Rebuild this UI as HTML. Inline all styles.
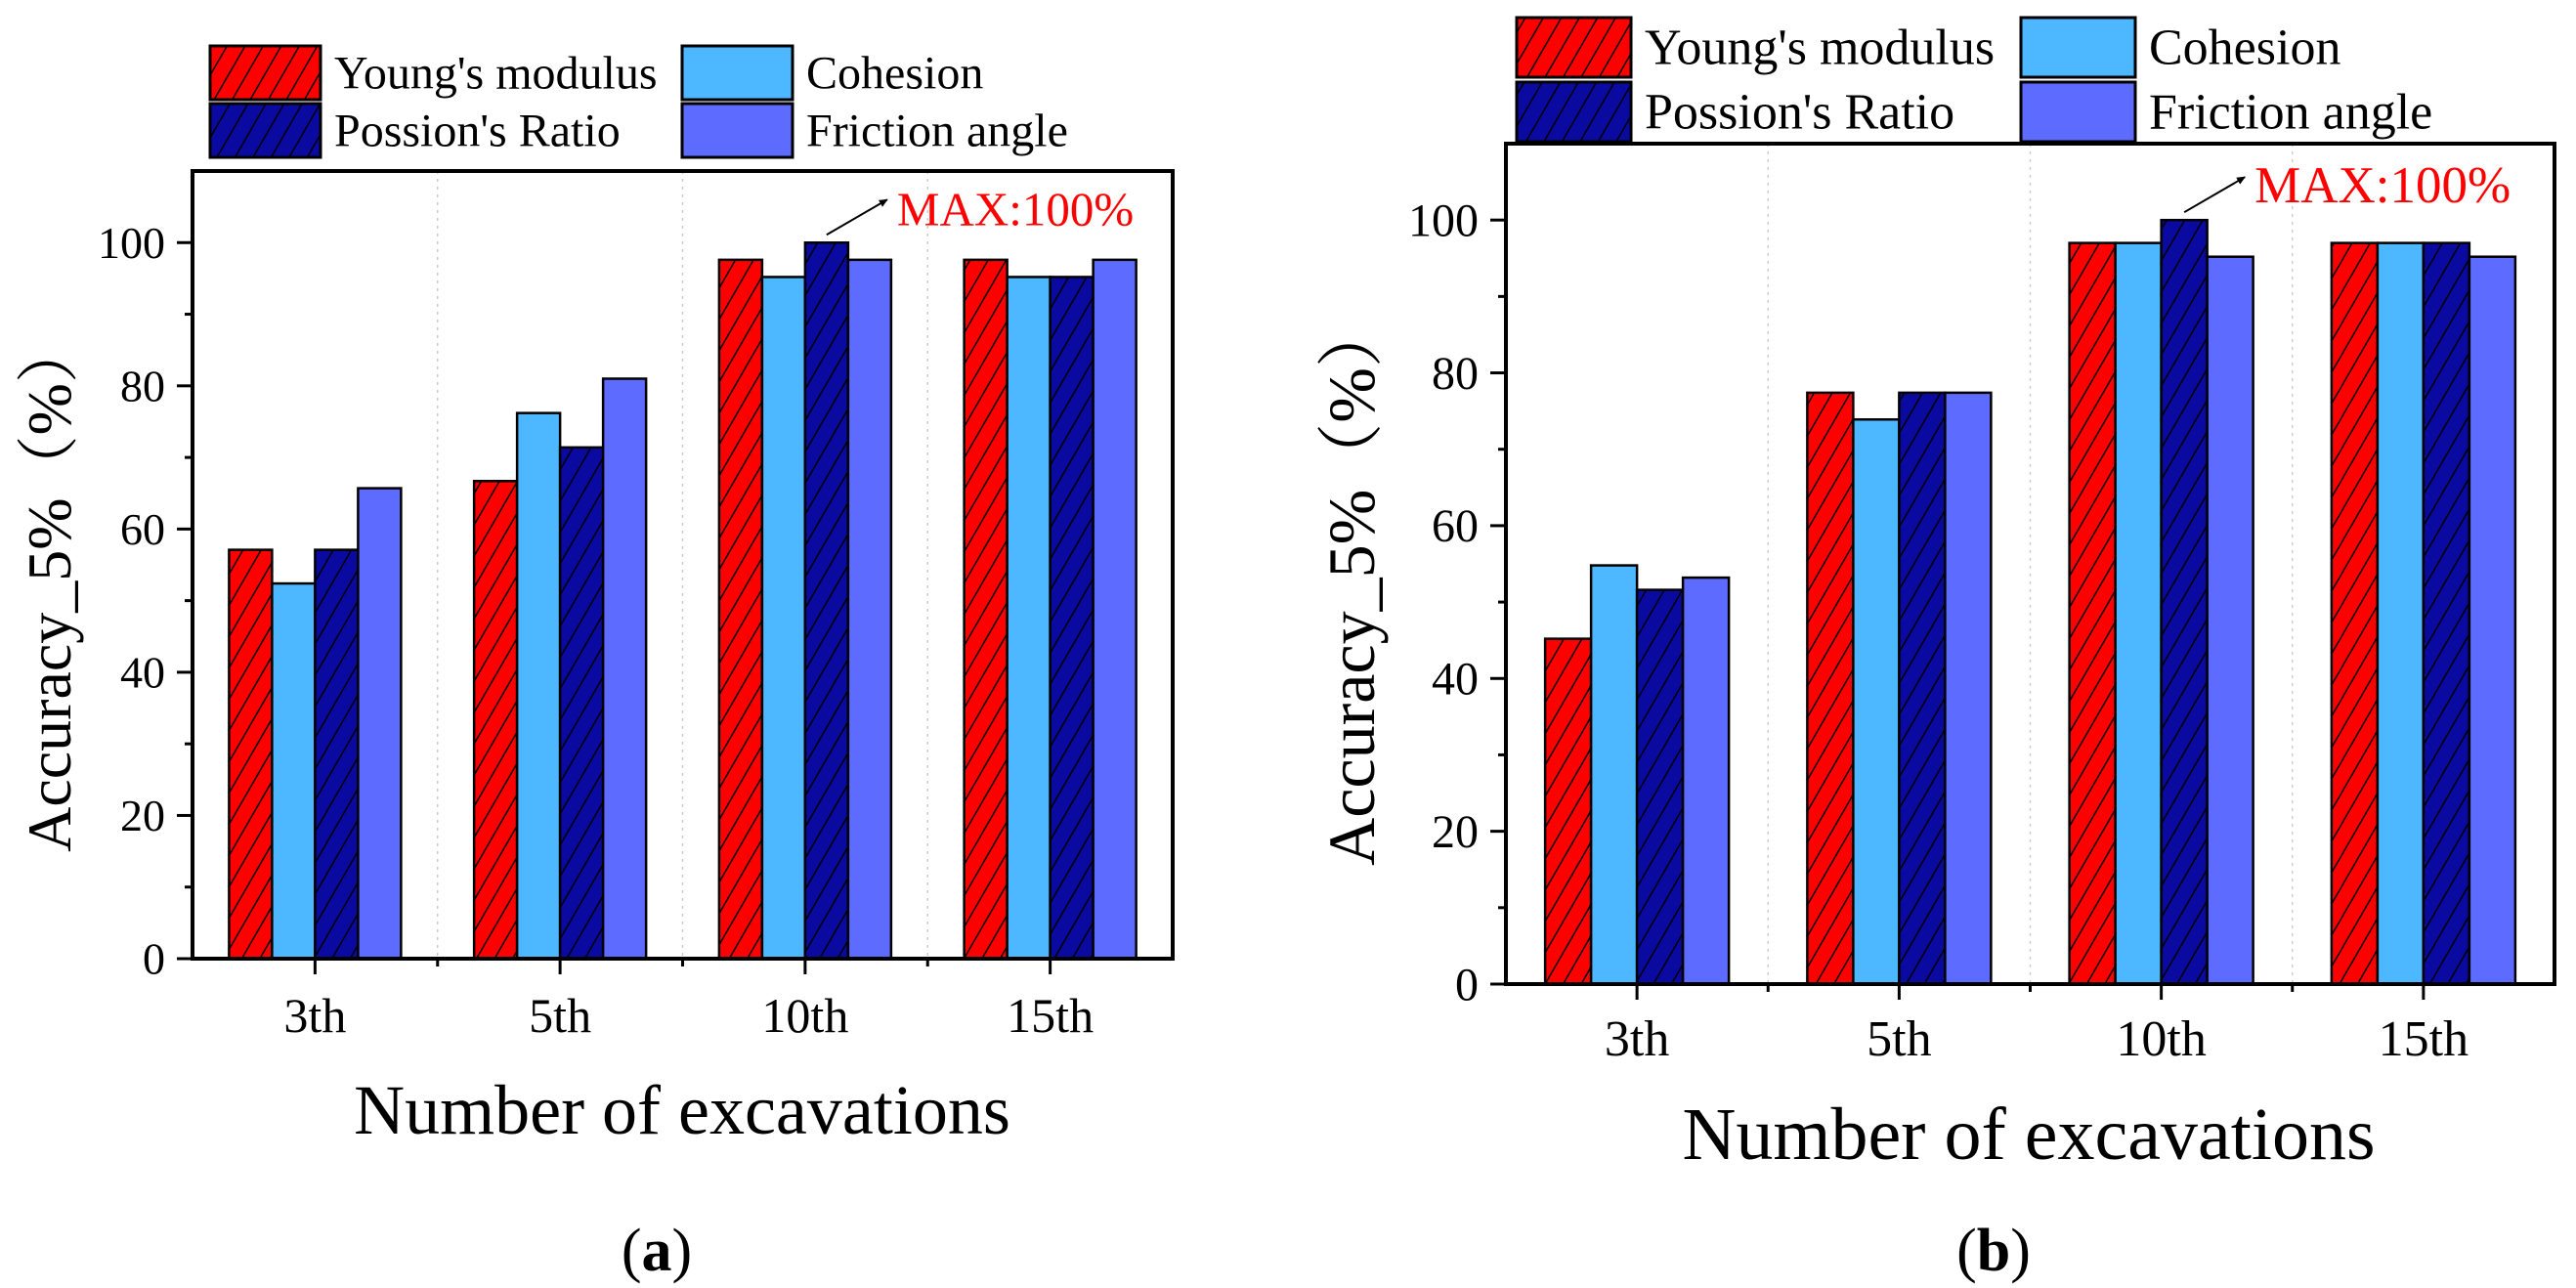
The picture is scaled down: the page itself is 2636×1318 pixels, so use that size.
<!DOCTYPE html>
<html><head><meta charset="utf-8">
<style>
html,body{margin:0;padding:0;background:#fff;}
svg{display:block;}
svg text{font-family:"Liberation Serif","DejaVu Serif","Noto Serif CJK SC",serif !important;fill:#000;}
</style></head>
<body>
<svg id="fig" width="2636" height="1318" viewBox="0 0 2636 1318" xmlns="http://www.w3.org/2000/svg" font-family="Liberation Serif, DejaVu Serif, serif">
<defs>
<pattern id="hatchRed" patternUnits="userSpaceOnUse" width="16" height="16" patternTransform="rotate(30)">
<rect width="16" height="16" fill="#ff0000"/><line x1="0" y1="0" x2="0" y2="16" stroke="#000" stroke-width="3"/></pattern>
<pattern id="hatchNavy" patternUnits="userSpaceOnUse" width="16" height="16" patternTransform="rotate(30)">
<rect width="16" height="16" fill="#0a0aa0"/><line x1="0" y1="0" x2="0" y2="16" stroke="#000" stroke-width="3"/></pattern>
<marker id="arrowHead" markerWidth="10" markerHeight="10" refX="8" refY="5" orient="auto" markerUnits="userSpaceOnUse">
<path d="M0,1 L9,5 L0,9 z" fill="#000"/></marker>
</defs>
<g id="root"></g>
</svg>
<script>
const categories = ["3th", "5th", "10th", "15th"];
const seriesNames = ["Young's modulus", "Cohesion", "Possion's Ratio", "Friction angle"];
const youngA = [57.1, 66.7, 97.6, 97.6];
const cohesionA = [52.4, 76.2, 95.2, 95.2];
const poissonA = [57.1, 71.4, 100, 95.2];
const frictionA = [65.7, 81.0, 97.6, 97.6];
const youngB = [45.2, 77.4, 97.0, 97.0];
const cohesionB = [54.8, 73.9, 97.0, 97.0];
const poissonB = [51.6, 77.4, 100, 97.0];
const frictionB = [53.2, 77.4, 95.2, 95.2];
const yTicks = [0, 20, 40, 60, 80, 100];
const yMinorTicks = [10, 30, 50, 70, 90];

const fills = ["url(#hatchRed)", "#4db8ff", "url(#hatchNavy)", "#5d6cff"];
const NS = "http://www.w3.org/2000/svg";
const FONT = "'Liberation Serif', 'DejaVu Serif', 'Noto Serif CJK SC', serif";
const root = document.getElementById('root');
function mk(tag, attrs, parent){
  const e = document.createElementNS(NS, tag);
  for (const k in attrs) e.setAttribute(k, attrs[k]);
  if (tag === 'text') e.setAttribute('font-family', FONT);
  (parent||root).appendChild(e);
  return e;
}

function panel(p, series, id){
  const g = mk('g', {});
  
  
  const y = v => p.bottom - (v / 110) * (p.bottom - p.top);
  const step = (p.right - p.left) / categories.length;
  const cx = i => p.left + step * (i + 0.5);
  for (let i = 1; i < categories.length; i++) {
    const gl = mk('line', {x1: p.left + step*i, x2: p.left + step*i, y1: p.top, y2: p.bottom, stroke: '#ccc', 'stroke-width': 1.5, 'stroke-dasharray': '3,5'}, g);
    
    
  }
  const nb = series.length;
  series.forEach((vals, s) => {
    vals.forEach((v, i) => {
      const x = cx(i) - nb*p.bw/2 + s*p.bw;
      const r = mk('rect', {x: x, y: y(v), width: p.bw, height: p.bottom - y(v), fill: fills[s], stroke: '#000', 'stroke-width': 2.5}, g);
      
      
    });
  });
  const fr = mk('rect', {x: p.left, y: p.top, width: p.right - p.left, height: p.bottom - p.top, fill: 'none', stroke: '#000', 'stroke-width': 4}, g);
  
  
  yTicks.forEach(t => {
    mk('line', {x1: p.left - 16, x2: p.left, y1: y(t), y2: y(t), stroke: '#000', 'stroke-width': 3}, g);
    const tl = mk('text', {x: p.left - 28, y: y(t) + p.tf*0.34, 'text-anchor': 'end', 'font-size': p.tf}, g);
    tl.textContent = t;
    
    
  });
  yMinorTicks.forEach(t => mk('line', {x1: p.left - 8, x2: p.left, y1: y(t), y2: y(t), stroke: '#000', 'stroke-width': 3}, g));
  categories.forEach((c, i) => {
    mk('line', {x1: cx(i), x2: cx(i), y1: p.bottom, y2: p.bottom + 16, stroke: '#000', 'stroke-width': 3}, g);
    const xl = mk('text', {x: cx(i), y: p.catY, 'text-anchor': 'middle', 'font-size': p.cf}, g);
    xl.textContent = c;
    
    
  });
  for (let i = 1; i < categories.length; i++) mk('line', {x1: p.left + step*i, x2: p.left + step*i, y1: p.bottom, y2: p.bottom + 8, stroke: '#000', 'stroke-width': 3}, g);
  const xt = mk('text', {x: p.xtX, y: p.xtY, 'text-anchor': 'middle', 'font-size': p.xtf}, g);
  xt.textContent = 'Number of excavations';
  
  
  const yt = mk('text', {x: 0, y: 0, 'text-anchor': 'middle', 'font-size': p.ytf, transform: 'translate(' + p.ytX + ',' + p.ytY + ') rotate(-90)'}, g);
  yt.textContent = 'Accuracy_5%（%）';
  
  
  const maxIdx = series[2].indexOf(Math.max(...series[2]));
  const ax = cx(maxIdx) + p.bw*0.5;
  const ay = y(series[2][maxIdx]);
  const ar = mk('line', {x1: ax, y1: ay - 8, x2: ax + 62, y2: ay - 44, stroke: '#000', 'stroke-width': 2, 'marker-end': 'url(#arrowHead)'}, g);
  
  
  const at = mk('text', {x: ax + 72, y: ay - 18, 'font-size': p.af, style: 'fill:#ff0000'}, g);
  at.textContent = 'MAX:100%';
  
  
  const lg = mk('g', {}, g);
  
  
  [0, 1, 2, 3].forEach(s => {
    const col = s % 2, row = Math.floor(s / 2);
    const sx = p.lgX[col], sy = p.lgY[row];
    const sw = mk('rect', {x: sx, y: sy, width: p.sw, height: p.sh, fill: fills[s], stroke: '#000', 'stroke-width': 3}, lg);
    
    
    const lt = mk('text', {x: sx + p.sw + 14, y: sy + p.sh/2 + p.lf*0.33, 'font-size': p.lf}, lg);
    lt.textContent = seriesNames[s];
    
    
  });
  const pl = mk('text', {x: p.plX, y: p.plY, 'text-anchor': 'middle', 'font-size': 62}, g);
  pl.innerHTML = '(<tspan font-weight="bold">' + id + '</tspan>)';
  
  
}

panel({left:197, right:1200, top:175, bottom:981, bw:44, tf:46, cf:50, catY:1056, xtX:698, xtY:1160, xtf:72,
  ytX:72, ytY:600, ytf:64, af:49, lgX:[215,698], lgY:[47,106], sw:113, sh:55, lf:48, plX:672, plY:1300},
  [youngA, cohesionA, poissonA, frictionA], 'a');
panel({left:1541, right:2614, top:147, bottom:1007, bw:47, tf:48, cf:52, catY:1080, xtX:2076, xtY:1186, xtf:76,
  ytX:1406, ytY:597, ytf:68, af:53, lgX:[1552,2068], lgY:[18,84], sw:117, sh:61, lf:52, plX:2040, plY:1300},
  [youngB, cohesionB, poissonB, frictionB], 'b');
</script>
</body></html>
